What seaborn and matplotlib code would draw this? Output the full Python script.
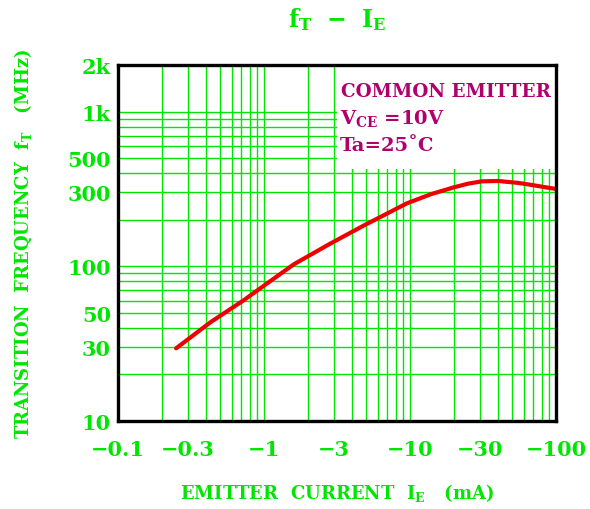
import matplotlib
matplotlib.use("Agg")
import matplotlib.pyplot as plt
import seaborn as sns
import pandas as pd
from matplotlib.patches import Rectangle

# emitter current magnitude (mA) and transition frequency (MHz)
ie_ma = [0.25, 0.43, 0.72, 1.0, 1.6, 2.8, 4.8, 6.5, 9.5, 14, 20, 25, 31, 40, 55, 70, 100]
ft_mhz = [29.5, 43.5, 60, 75, 103, 139, 183, 212, 255, 293, 324, 342, 354, 356, 346, 334, 316]

x_ticks = [0.1, 0.3, 1, 3, 10, 30, 100]
x_labels = ["\u22120.1", "\u22120.3", "\u22121", "\u22123", "\u221210", "\u221230", "\u2212100"]
y_ticks = [10, 30, 50, 100, 300, 500, 1000, 2000]
y_labels = ["10", "30", "50", "100", "300", "500", "1k", "2k"]

GREEN = "#00e600"
MAGENTA = "#b0006e"

sns.set_theme(style="white")
plt.rcParams["font.family"] = ["DejaVu Serif"]
plt.rcParams["font.weight"] = "bold"
plt.rcParams["mathtext.fontset"] = "dejavuserif"
plt.rcParams["mathtext.default"] = "bf"

df = pd.DataFrame({"ie": ie_ma, "ft": ft_mhz})

fig = plt.figure(figsize=(5.9, 5.1), dpi=100)
ax = fig.add_axes([0.2, 0.1725, 0.7424, 0.6981])

ax.set_xscale("log")
ax.set_yscale("log")
ax.set_xlim(0.1, 100)
ax.set_ylim(10, 2000)

# grid on every 1-9 decade step (major + minor together)
minor_x = [m * 10 ** k for k in (-1, 0, 1) for m in range(1, 10)] + [100]
minor_y = [m * 10 ** k for k in (1, 2) for m in range(1, 10)] + [1000, 2000]
ax.set_xticks(minor_x, minor=True)
ax.set_yticks(minor_y, minor=True)
ax.set_xticks(x_ticks, x_labels)
ax.set_yticks(y_ticks, y_labels)
ax.set_axisbelow(True)
ax.grid(True, which="both", color=GREEN, linewidth=1.0)

ax.tick_params(which="both", length=0)
ax.tick_params(axis="x", pad=13, labelsize=15, labelcolor=GREEN)
ax.tick_params(axis="y", pad=5, labelsize=15, labelcolor=GREEN)
for lab in ax.get_xticklabels() + ax.get_yticklabels():
    lab.set_fontweight("bold")

# white label box over the grid, top right
ax.add_patch(Rectangle((0.5, 0.708), 0.5, 0.292, transform=ax.transAxes,
                       facecolor="white", edgecolor="none", zorder=1))

sns.lineplot(data=df, x="ie", y="ft", color="#ee0000", linewidth=3.0,
             ax=ax, zorder=3)

for s in ax.spines.values():
    s.set_color("black")
    s.set_linewidth(2.4)
    s.set_zorder(5)

ax.set_xlabel(r"EMITTER  CURRENT  $I_E$   (mA)", color=GREEN, fontsize=13,
              fontweight="bold", labelpad=16)
ax.set_ylabel(r"TRANSITION  FREQUENCY  $f_T$   (MHz)", color=GREEN, fontsize=13,
              fontweight="bold", labelpad=24)
ax.set_title(r"$f_T$  $-$  $I_E$", color=GREEN, fontsize=17, pad=28)

ax.text(0.51, 0.913, "COMMON EMITTER", transform=ax.transAxes, color=MAGENTA,
        fontsize=13.2, fontweight="bold", va="baseline", zorder=6)
ax.text(0.507, 0.838, r"$V_{CE}$ =10V", transform=ax.transAxes, color=MAGENTA,
        fontsize=14, fontweight="bold", va="baseline", zorder=6)
ax.text(0.507, 0.762, "Ta=25\u02daC", transform=ax.transAxes, color=MAGENTA,
        fontsize=14, fontweight="bold", va="baseline", zorder=6)

fig.savefig("out.png", dpi=100)
